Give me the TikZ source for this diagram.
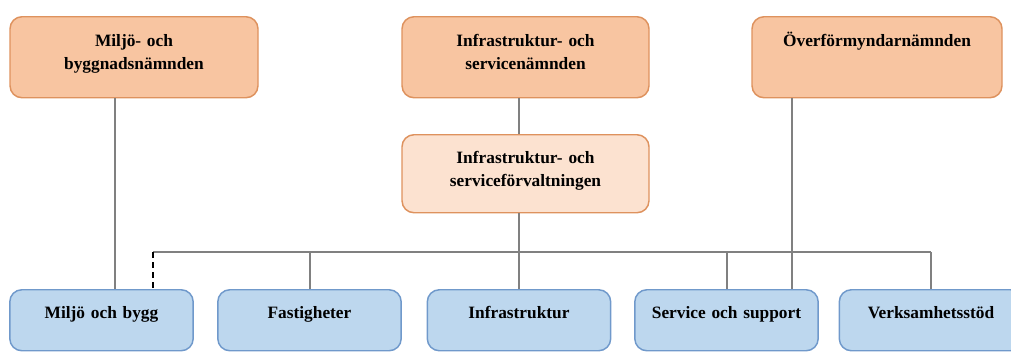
\documentclass[tikz,border=0pt]{standalone}
\usepackage{fontspec}
\setmainfont{Liberation Serif}
\usetikzlibrary{positioning}
\usetikzlibrary{calc}
\definecolor{boardfill}{RGB}{248,197,161}
\definecolor{officefill}{RGB}{252,226,208}
\definecolor{boardline}{RGB}{222,146,94}
\definecolor{unitfill}{RGB}{189,215,238}
\definecolor{unitline}{RGB}{112,153,203}
\definecolor{linkgray}{RGB}{128,128,128}

\begin{document}
\begin{tikzpicture}[x=0.75pt,y=-0.75pt]
				\tikzset{board/.style = {shape=rectangle, rounded corners=9pt, draw=boardline, fill=boardfill, line width=1.1pt, align=center, inner sep=0pt, anchor=north, font=\bfseries\fontsize{13}{17}\selectfont, text height=22.5pt, text depth=38.25pt}}
				\tikzset{office/.style = {board, fill=officefill, text height=21.5pt, text depth=37pt}}
				\tikzset{unit/.style = {board, draw=unitline, fill=unitfill, text width=137.5pt, text height=21.5pt, text depth=24.25pt}}
				\tikzset{link/.style = {-, draw=linkgray, line width=1.5pt}}
				\useasboundingbox (0,0) rectangle (1011,351);
				
				\node[board, text width=186pt] (MBN) at (134,16) {Miljö- och \\ byggnadsnämnden};
				\node[board, text width=185.25pt] (ISN) at (525.5,16) {Infrastruktur- och \\ servicenämnden};
				\node[board, text width=187.5pt] (OFN) at (877,16) {Överförmyndarnämnden};
				\node[office, text width=185.25pt] (ISF) at (525.5,134) {Infrastruktur- och \\ serviceförvaltningen};
				
				\node[unit] (MB) at (101.5,289) {Miljö och bygg};
				\node[unit] (FA) at (309.5,289) {Fastigheter};
				\node[unit] (IS) at (519,289) {Infrastruktur};
				\node[unit] (SS) at (726.5,289) {Service och support};
				\node[unit] (VS) at (931,289) {Verksamhetsstöd};
				
				\coordinate (busL) at (153,252);
				\coordinate (mbx) at (115,289);
				\coordinate (ofx) at (792,289);
				
				\draw[link] (mbx |- MBN.south) -- (mbx);
				\draw[link] (IS.north |- ISN.south) -- (IS.north |- ISF.north);
				\draw[link] (IS.north |- ISF.south) -- (IS.north);
				\draw[link] (busL) -- (busL -| VS.north);
				\draw[link] (FA.north |- busL) -- (FA.north);
				\draw[link] (SS.north |- busL) -- (SS.north);
				\draw[link] (VS.north |- busL) -- (VS.north);
				\draw[link] (ofx |- OFN.south) -- (ofx);
				\draw[-, line width=2pt, dash pattern=on 4.5pt off 3pt] (busL) -- (busL |- MB.north);
				
				\end{tikzpicture}
\end{document}
